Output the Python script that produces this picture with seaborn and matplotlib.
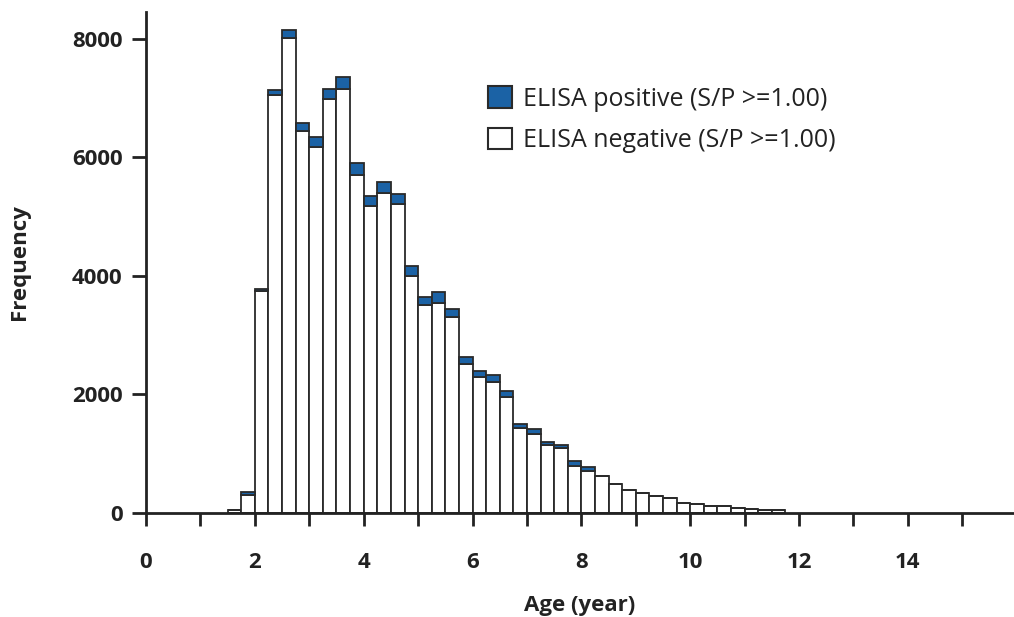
import numpy as np
import pandas as pd
import matplotlib
matplotlib.use("Agg")
import matplotlib.pyplot as plt
import seaborn as sns
from matplotlib.patches import Patch

# Bin start ages (years), bin width 0.25
bin_start = [1.5, 1.75, 2.0, 2.25, 2.5, 2.75, 3.0, 3.25, 3.5, 3.75,
             4.0, 4.25, 4.5, 4.75, 5.0, 5.25, 5.5, 5.75, 6.0, 6.25,
             6.5, 6.75, 7.0, 7.25, 7.5, 7.75, 8.0, 8.25, 8.5, 8.75,
             9.0, 9.25, 9.5, 9.75, 10.0, 10.25, 10.5, 10.75, 11.0, 11.25, 11.5]

# ELISA negative counts per bin
negative = [42, 310, 3740, 7050, 8010, 6450, 6170, 6975, 7150, 5700,
            5170, 5390, 5205, 3995, 3505, 3545, 3300, 2505, 2300, 2210,
            1955, 1425, 1335, 1145, 1095, 790, 705, 625, 495, 390,
            335, 285, 255, 175, 155, 120, 110, 88, 75, 48, 48]

# ELISA positive counts per bin
positive = [0, 40, 30, 80, 130, 130, 175, 180, 200, 205,
            170, 195, 180, 165, 130, 180, 135, 130, 100, 110,
            100, 80, 80, 60, 50, 90, 75, 0, 0, 0,
            0, 0, 0, 0, 0, 0, 0, 0, 0, 0, 0]

lab_pos = "ELISA positive (S/P >=1.00)"
lab_neg = "ELISA negative (S/P >=1.00)"
blue = "#1b62a5"
ink = "#222222"

binw = 0.25
centers = np.array(bin_start) + binw / 2
df = pd.DataFrame({
    "age": np.concatenate([centers, centers]),
    "count": negative + positive,
    "status": [lab_neg] * len(centers) + [lab_pos] * len(centers),
})

sns.set_style("ticks")
plt.rcParams["font.family"] = ["Open Sans", "DejaVu Sans"]

fig = plt.figure(figsize=(10.14, 6.17), dpi=100)
ax = fig.add_axes([0.144, 0.1686, 0.856, 0.812])

sns.histplot(data=df, x="age", weights="count", hue="status",
             hue_order=[lab_pos, lab_neg], multiple="stack",
             binwidth=binw, binrange=(1.5, 11.75),
             palette={lab_pos: blue, lab_neg: "white"},
             edgecolor="#2a2a2a", linewidth=1.3, alpha=1, ax=ax, legend=False)

ax.set_xlim(0, 15.95)
ax.set_ylim(0, 8450)
sns.despine(ax=ax)
for s in ["left", "bottom"]:
    ax.spines[s].set_linewidth(2)
    ax.spines[s].set_color(ink)

ax.set_xticks(range(0, 16))
ax.set_xticklabels([str(i) if i % 2 == 0 else "" for i in range(0, 16)])
ax.set_yticks([0, 2000, 4000, 6000, 8000])
ax.tick_params(axis="x", length=9, width=2, pad=19, labelsize=16, color=ink)
ax.tick_params(axis="y", length=10, width=2, pad=7, labelsize=16, color=ink)
for t in ax.get_xticklabels() + ax.get_yticklabels():
    t.set_fontweight("bold")
    t.set_color(ink)

ax.set_xlabel("Age (year)", fontsize=16, fontweight="bold", color=ink, labelpad=16)
ax.set_ylabel("Frequency", fontsize=16, fontweight="bold", color=ink, labelpad=30)

handles = [Patch(facecolor=blue, edgecolor="#2a2a2a", linewidth=1.5, label=lab_pos),
           Patch(facecolor="white", edgecolor="#2a2a2a", linewidth=1.5, label=lab_neg)]
leg = fig.legend(handles=handles, loc="center left", bbox_to_anchor=(0.4813, 0.806),
                 bbox_transform=fig.transFigure, frameon=False, fontsize=18,
                 borderpad=0, borderaxespad=0, handlelength=0.95, handleheight=0.95,
                 handletextpad=0.45, labelspacing=0.65)
for t in leg.get_texts():
    t.set_color(ink)

fig.savefig("out.png", dpi=100)
